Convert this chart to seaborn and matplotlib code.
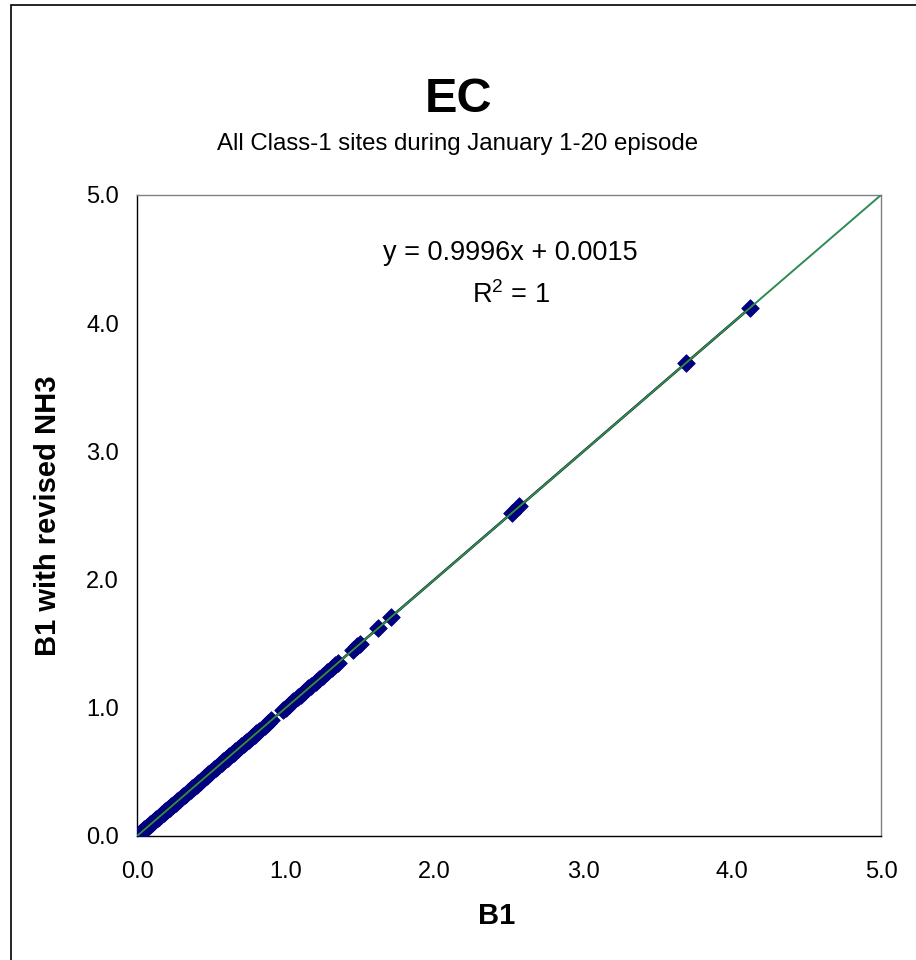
import matplotlib
matplotlib.use("Agg")
import matplotlib.pyplot as plt
import pandas as pd
import seaborn as sns
from matplotlib.patches import Rectangle

# EC concentrations at all Class-1 sites, base B1 run vs. B1 with revised NH3
b1 = [0.02, 0.03, 0.04, 0.05, 0.06, 0.07, 0.08, 0.09, 0.10, 0.11, 0.12, 0.13,
      0.14, 0.15, 0.16, 0.17, 0.18, 0.19, 0.20, 0.21, 0.22, 0.23, 0.24, 0.25,
      0.26, 0.27, 0.28, 0.29, 0.30, 0.31, 0.32, 0.33, 0.34, 0.35, 0.36, 0.37,
      0.38, 0.39, 0.40, 0.41, 0.42, 0.43, 0.44, 0.45, 0.46, 0.47, 0.48, 0.49,
      0.50, 0.52, 0.53, 0.54, 0.55, 0.57, 0.58, 0.60, 0.61, 0.62, 0.64, 0.65,
      0.66, 0.68, 0.70, 0.72, 0.73, 0.75, 0.77, 0.79, 0.80, 0.82, 0.86, 0.88,
      0.90, 0.98, 1.00, 1.02, 1.05, 1.08, 1.10, 1.12, 1.15, 1.17, 1.20, 1.22,
      1.25, 1.28, 1.31, 1.33, 1.35, 1.45, 1.48, 1.50, 1.62, 1.71, 2.52, 2.57,
      3.69, 4.12]
b1_revised_nh3 = [0.022, 0.031, 0.042, 0.051, 0.062, 0.071, 0.081, 0.092, 0.101, 0.112, 0.121, 0.132,
                  0.141, 0.151, 0.162, 0.171, 0.181, 0.191, 0.202, 0.211, 0.221, 0.231, 0.241, 0.251,
                  0.261, 0.271, 0.281, 0.291, 0.301, 0.311, 0.321, 0.331, 0.341, 0.351, 0.361, 0.371,
                  0.381, 0.391, 0.401, 0.411, 0.421, 0.431, 0.441, 0.451, 0.461, 0.471, 0.481, 0.491,
                  0.501, 0.521, 0.531, 0.541, 0.551, 0.571, 0.581, 0.601, 0.611, 0.621, 0.641, 0.651,
                  0.661, 0.681, 0.701, 0.721, 0.731, 0.751, 0.771, 0.791, 0.801, 0.821, 0.861, 0.881,
                  0.901, 0.981, 1.001, 1.021, 1.051, 1.081, 1.101, 1.121, 1.151, 1.171, 1.201, 1.221,
                  1.251, 1.281, 1.311, 1.331, 1.351, 1.451, 1.481, 1.501, 1.621, 1.711, 2.521, 2.571,
                  3.690, 4.118]

# Linear trendline reported on the chart
slope = 0.9996
intercept = 0.0015
r_squared = 1

axis_ticks = [0.0, 1.0, 2.0, 3.0, 4.0, 5.0]
axis_limit = 5.0

title = "EC"
subtitle = "All Class-1 sites during January 1-20 episode"
x_label = "B1"
y_label = "B1 with revised NH3"

sns.set_style("white")
plt.rcParams["font.family"] = ["Liberation Sans", "DejaVu Sans"]
plt.rcParams["mathtext.fontset"] = "custom"
plt.rcParams["mathtext.rm"] = "Liberation Sans"
plt.rcParams["text.color"] = "black"
plt.rcParams["axes.labelcolor"] = "black"

fig = plt.figure(figsize=(9.16, 9.6), dpi=100)
ax = fig.add_axes([0.1496, 0.1292, 0.8122, 0.6677])

df = pd.DataFrame({x_label: b1, y_label: b1_revised_nh3})

sns.scatterplot(data=df, x=x_label, y=y_label, ax=ax, marker="D", s=80,
                color="#000080", edgecolor="#000080", linewidth=0.6, zorder=3)

# Fitted trendline over the data range
fit_x = [min(b1), max(b1)]
fit_y = [slope * v + intercept for v in fit_x]
sns.lineplot(x=fit_x, y=fit_y, ax=ax, color="black", linewidth=1.8, zorder=4)

# 1:1 reference line
sns.lineplot(x=[0.0, axis_limit], y=[0.0, axis_limit], ax=ax,
             color="#2E8B57", linewidth=1.4, zorder=5)

ax.set_xlim(0, axis_limit)
ax.set_ylim(0, axis_limit)
ax.set_xticks(axis_ticks)
ax.set_yticks(axis_ticks)
ax.set_xticklabels([f"{t:.1f}" for t in axis_ticks])
ax.set_yticklabels([f"{t:.1f}" for t in axis_ticks])
ax.tick_params(axis="x", direction="in", length=5, width=1, pad=18,
               labelsize=17, colors="black")
ax.tick_params(axis="y", direction="in", length=5, width=1, pad=13,
               labelsize=17, colors="black")

for side in ["left", "bottom"]:
    ax.spines[side].set_color("black")
    ax.spines[side].set_linewidth(1.0)
for side in ["top", "right"]:
    ax.spines[side].set_color("#808080")
    ax.spines[side].set_linewidth(1.0)

ax.set_xlabel(x_label, fontsize=21, fontweight="bold")
ax.set_ylabel(y_label, fontsize=21, fontweight="bold")
ax.xaxis.set_label_coords(0.484, -0.125)
ax.xaxis.label.set_va("center")
ax.yaxis.set_label_coords(-0.1196, 0.5)
ax.yaxis.label.set_va("center")
ax.yaxis.label.set_ha("center")

ax.text(2.51, 4.55, f"y = {slope:.4f}x + {intercept:.4f}", ha="center",
        va="center", fontsize=19.5)
ax.text(2.51, 4.22, r"R$^{2}$ = " + f"{r_squared}", ha="center", va="center",
        fontsize=19.5)

fig.text(0.5, 1 - 100 / 960, title, ha="center", va="center", fontsize=35,
         fontweight="bold")
fig.text(0.5, 1 - 144 / 960, subtitle, ha="center", va="center", fontsize=17.3)

# Chart-area border
fig.patches.append(Rectangle((11 / 916, -0.2), 1.5, 1.2 - 5 / 960,
                             transform=fig.transFigure, fill=False,
                             edgecolor="black", linewidth=1.2))

fig.savefig("out.png", dpi=100, facecolor="white")
